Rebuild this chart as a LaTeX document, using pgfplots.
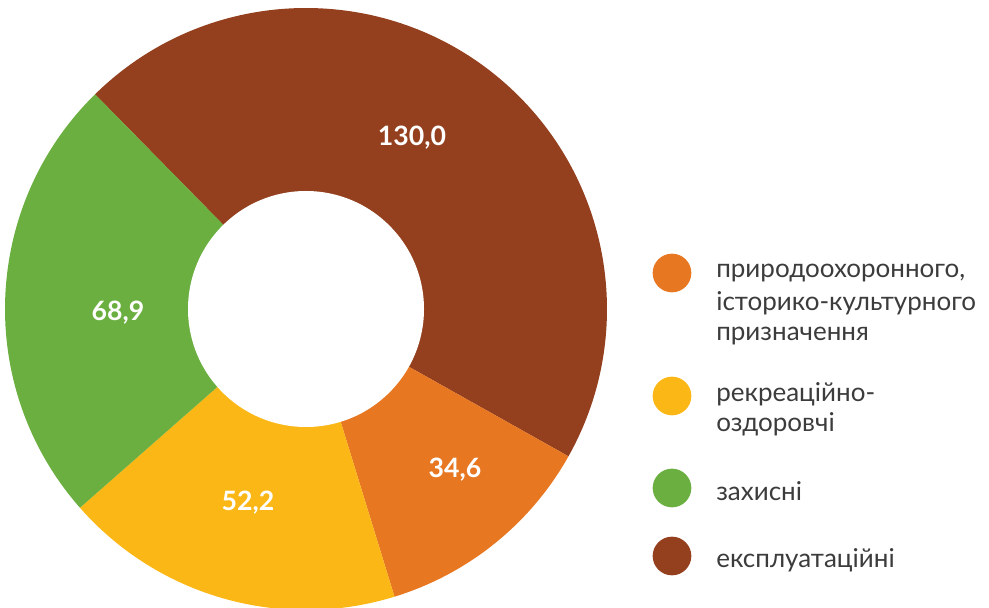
\documentclass[border=0pt]{standalone}
\usepackage{pgfplots}
\pgfplotsset{compat=1.18}
\usepackage{pgfplotstable}
\usepackage{fontspec}
\setmainfont{Lato}
\usetikzlibrary{calc}
\definecolor{cBrown}{HTML}{94401E}
\definecolor{cOrange}{HTML}{E87722}
\definecolor{cYellow}{HTML}{FBB715}
\definecolor{cGreen}{HTML}{6AAF3F}
\definecolor{cText}{HTML}{3C3C3C}

\pgfplotstableread{
key value
ekspl 130.0
pryrod 34.6
rekr 52.2
zakh 68.9
}\datatable

\pgfplotstablegetelem{0}{value}\of\datatable \let\vA\pgfplotsretval
\pgfplotstablegetelem{1}{value}\of\datatable \let\vB\pgfplotsretval
\pgfplotstablegetelem{2}{value}\of\datatable \let\vC\pgfplotsretval
\pgfplotstablegetelem{3}{value}\of\datatable \let\vD\pgfplotsretval
\pgfmathsetmacro\tot{\vA+\vB+\vC+\vD}
\pgfmathsetmacro\sA{134.5}
\pgfmathsetmacro\eA{\sA-\vA/\tot*360}
\pgfmathsetmacro\eB{\eA-\vB/\tot*360}
\pgfmathsetmacro\eC{\eB-\vC/\tot*360}
\pgfmathsetmacro\eD{\eC-\vD/\tot*360}

\begin{document}
\begin{tikzpicture}
\useasboundingbox (0,0) rectangle (741.75pt,455.25pt);
\begin{axis}[
  x=0.75pt, y=0.75pt,
  xmin=0, xmax=989, ymin=0, ymax=607,
  hide axis, clip=false,
  anchor=origin, at={(0,0)},
]
\def\R{225.75pt}
\def\r{88.5pt}
% slices
\fill[cBrown]  (axis cs:306,298) -- ($(axis cs:306,298)+(\sA:\R)$) arc[start angle=\sA, end angle=\eA, radius=\R] -- cycle;
\fill[cOrange] (axis cs:306,298) -- ($(axis cs:306,298)+(\eA:\R)$) arc[start angle=\eA, end angle=\eB, radius=\R] -- cycle;
\fill[cYellow] (axis cs:306,298) -- ($(axis cs:306,298)+(\eB:\R)$) arc[start angle=\eB, end angle=\eC, radius=\R] -- cycle;
\fill[cGreen]  (axis cs:306,298) -- ($(axis cs:306,298)+(\eC:\R)$) arc[start angle=\eC, end angle=\eD, radius=\R] -- cycle;
\fill[white] (axis cs:306,298) circle[radius=\r];
% value labels
\node[text=white, font=\fontsize{20}{24}\selectfont\bfseries] at (axis cs:412,469) {130,0};
\node[text=white, font=\fontsize{20}{24}\selectfont\bfseries] at (axis cs:455,137) {34,6};
\node[text=white, font=\fontsize{20}{24}\selectfont\bfseries] at (axis cs:248,104) {52,2};
\node[text=white, font=\fontsize{20}{24}\selectfont\bfseries] at (axis cs:118,294) {68,9};
% legend
\fill[cOrange] (axis cs:672,334) circle[radius=14.5pt];
\fill[cYellow] (axis cs:672,211) circle[radius=14.5pt];
\fill[cGreen]  (axis cs:672,119) circle[radius=14.5pt];
\fill[cBrown]  (axis cs:672,51)  circle[radius=14.5pt];
\tikzset{lg/.style={anchor=base west, inner sep=0pt, text=cText, font=\fontsize{19.5}{23}\selectfont}}
\node[lg] at (axis cs:716,329) {природоохоронного,};
\node[lg] at (axis cs:716,296) {історико-культурного};
\node[lg] at (axis cs:716,266) {призначення};
\node[lg] at (axis cs:716,205) {рекреаційно-};
\node[lg] at (axis cs:716,175) {оздоровчі};
\node[lg] at (axis cs:716,106) {захисні};
\node[lg] at (axis cs:716,39)  {експлуатаційні};
\end{axis}
\end{tikzpicture}
\end{document}
